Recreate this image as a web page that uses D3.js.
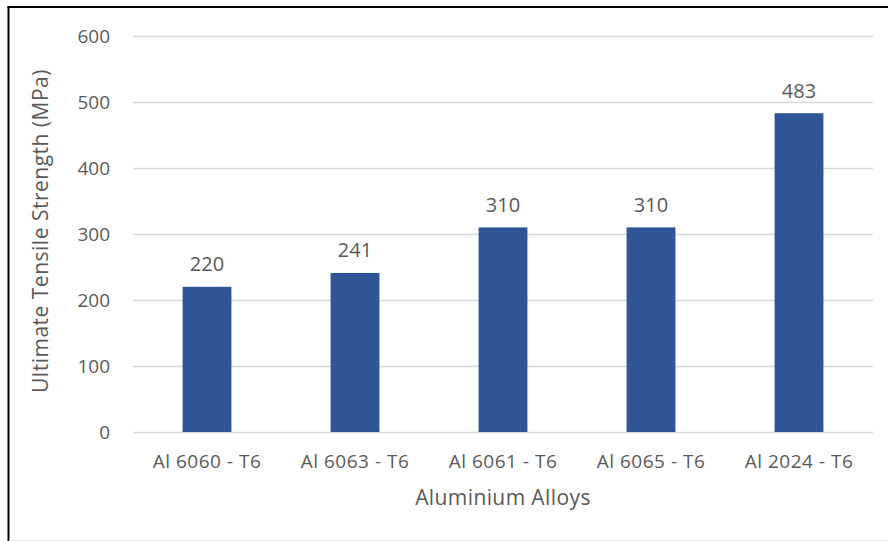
<!DOCTYPE html>
<html>
<head>
<meta charset="utf-8">
<script src="https://cdn.jsdelivr.net/npm/d3@7"></script>
<style>
  html, body { margin: 0; padding: 0; background: #fff; }
  svg { display: block; }
  text { font-family: "Open Sans", sans-serif; fill: #595959; }
</style>
</head>
<body>
<svg id="chart" width="888" height="541"></svg>
<script>
// Ultimate tensile strength of common aluminium alloys
const alloys = ["Al 6060 - T6", "Al 6063 - T6", "Al 6061 - T6", "Al 6065 - T6", "Al 2024 - T6"];
const strengths = [220, 241, 310, 310, 483];
const yTicks = [0, 100, 200, 300, 400, 500, 600];

const svg = d3.select("#chart");
const W = 888, H = 541;

// frame
svg.append("line").attr("x1", 8.5).attr("x2", 8.5).attr("y1", 6).attr("y2", H)
  .attr("stroke", "#000").attr("stroke-width", 2);
svg.append("line").attr("x1", 7.5).attr("x2", W).attr("y1", 7).attr("y2", 7)
  .attr("stroke", "#000").attr("stroke-width", 2);
svg.append("line").attr("x1", 9).attr("x2", W).attr("y1", 540.5).attr("y2", 540.5)
  .attr("stroke", "#e6e6e6").attr("stroke-width", 1);

const plot = { left: 133, right: 873, top: 36, bottom: 432 };

const x = d3.scaleBand().domain(alloys).range([plot.left, plot.right]).padding(0);
const y = d3.scaleLinear().domain([0, 600]).range([plot.bottom, plot.top]);

// gridlines
svg.append("g").selectAll("line").data(yTicks).join("line")
  .attr("x1", plot.left).attr("x2", plot.right)
  .attr("y1", d => Math.round(y(d)) + 0.5).attr("y2", d => Math.round(y(d)) + 0.5)
  .attr("stroke", "#d9d9d9").attr("stroke-width", 1.5);

// y axis labels
const yAxis = d3.axisLeft(y).tickValues(yTicks).tickSize(0).tickPadding(0);
const gy = svg.append("g").attr("transform", `translate(${110},0)`).call(yAxis);
gy.select(".domain").remove();
gy.selectAll("text").style("font-size", "19px").style("font-family", "Open Sans, sans-serif")
  .attr("fill", "#595959").attr("dy", "0.36em");

// bars
const barW = x.bandwidth() * 0.33;
svg.append("g").selectAll("rect").data(alloys).join("rect")
  .attr("x", d => x(d) + (x.bandwidth() - barW) / 2)
  .attr("width", barW)
  .attr("y", (d, i) => y(strengths[i]))
  .attr("height", (d, i) => y(0) - y(strengths[i]))
  .attr("fill", "#2F5597");

// value labels
svg.append("g").selectAll("text").data(alloys).join("text")
  .attr("x", d => x(d) + x.bandwidth() / 2)
  .attr("y", (d, i) => y(strengths[i]) - 15.5)
  .attr("text-anchor", "middle")
  .style("font-size", "20px")
  .text((d, i) => strengths[i]);

// x axis labels
const xAxis = d3.axisBottom(x).tickSize(0).tickPadding(0);
const gx = svg.append("g").attr("transform", `translate(0,468)`).call(xAxis);
gx.select(".domain").remove();
gx.selectAll("text").attr("dy", 0).style("font-size", "19px").style("letter-spacing", "0.5px")
  .style("font-family", "Open Sans, sans-serif").attr("fill", "#595959");

// axis titles
svg.append("text").attr("x", 503).attr("y", 505).attr("text-anchor", "middle")
  .style("font-size", "21px").style("letter-spacing", "0.4px").text("Aluminium Alloys");
svg.append("text").attr("transform", `translate(48,${231}) rotate(-90)`)
  .attr("text-anchor", "middle").style("font-size", "21px").style("letter-spacing", "0.5px")
  .text("Ultimate Tensile Strength (MPa)");
</script>
</body>
</html>
